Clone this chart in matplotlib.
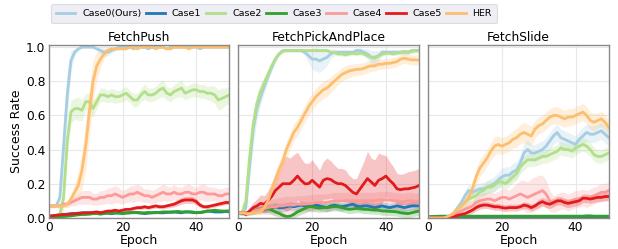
import matplotlib
matplotlib.use("Agg")
import matplotlib.pyplot as plt
import numpy as np

epochs = list(range(50))
labels = ["Case0(Ours)", "Case1", "Case2", "Case3", "Case4", "Case5", "HER"]
colors = ["#a6cee3", "#1f78b4", "#b2df8a", "#33a02c", "#fb9a99", "#e31a1c", "#fdbf6f"]
titles = ["FetchPush", "FetchPickAndPlace", "FetchSlide"]

# ---------------- FetchPush ----------------
push_c0 = [0.07,0.07,0.07,0.12,0.42,0.72,0.92,0.97,0.99,1.00, 1.00,1.00,1.00,0.99,0.98,0.97,0.97,0.98,0.99,1.00,
           1.00,1.00,1.00,0.99,1.00,1.00,1.00,0.99,1.00,1.00, 1.00,1.00,0.99,1.00,1.00,1.00,1.00,1.00,1.00,1.00,
           1.00,0.99,1.00,1.00,1.00,1.00,1.00,1.00,1.00,1.00]
push_c1 = [0.01,0.012,0.015,0.018,0.02,0.022,0.025,0.025,0.028,0.03, 0.03,0.028,0.03,0.032,0.03,0.03,0.028,0.025,0.028,0.03,
           0.028,0.03,0.03,0.032,0.03,0.028,0.025,0.028,0.03,0.032, 0.03,0.03,0.032,0.035,0.035,0.032,0.03,0.035,0.035,0.032,
           0.03,0.032,0.035,0.04,0.038,0.035,0.035,0.035,0.038,0.035]
push_c2 = [0.0,0.0,0.005,0.02,0.12,0.45,0.62,0.64,0.64,0.63, 0.68,0.68,0.64,0.68,0.72,0.72,0.71,0.72,0.71,0.71,
           0.72,0.73,0.71,0.69,0.69,0.72,0.74,0.72,0.72,0.73, 0.75,0.76,0.73,0.72,0.74,0.75,0.76,0.73,0.74,0.75,
           0.75,0.74,0.74,0.73,0.73,0.72,0.69,0.70,0.71,0.72]
push_c3 = [0.0,0.0,0.002,0.005,0.008,0.01,0.012,0.015,0.018,0.02, 0.02,0.022,0.025,0.025,0.022,0.025,0.028,0.03,0.03,0.028,
           0.025,0.028,0.03,0.03,0.032,0.03,0.03,0.032,0.03,0.03, 0.032,0.035,0.035,0.032,0.035,0.038,0.035,0.035,0.035,0.035,
           0.03,0.032,0.035,0.04,0.042,0.045,0.042,0.04,0.04,0.042]
push_c4 = [0.07,0.07,0.07,0.07,0.08,0.08,0.09,0.10,0.11,0.12, 0.12,0.12,0.11,0.11,0.12,0.12,0.13,0.13,0.14,0.13,
           0.12,0.13,0.14,0.14,0.15,0.14,0.13,0.13,0.12,0.13, 0.14,0.15,0.14,0.14,0.15,0.14,0.14,0.15,0.15,0.14,
           0.14,0.15,0.15,0.14,0.14,0.14,0.13,0.13,0.14,0.14]
push_c5 = [0.01,0.012,0.015,0.018,0.02,0.02,0.022,0.025,0.025,0.028, 0.03,0.03,0.032,0.035,0.03,0.035,0.04,0.04,0.045,0.04,
           0.045,0.05,0.05,0.055,0.06,0.06,0.065,0.06,0.065,0.07, 0.065,0.065,0.07,0.075,0.08,0.09,0.10,0.105,0.105,0.105,
           0.095,0.075,0.065,0.065,0.07,0.075,0.08,0.085,0.09,0.09]
push_her = [0.07,0.07,0.07,0.07,0.07,0.08,0.11,0.15,0.19,0.28, 0.42,0.62,0.80,0.89,0.93,0.96,0.98,0.99,0.99,0.99,
            0.99,0.99,1.00,1.00,0.99,1.00,1.00,1.00,1.00,0.99, 1.00,1.00,0.99,0.99,1.00,1.00,1.00,1.00,0.99,1.00,
            1.00,1.00,1.00,1.00,1.00,1.00,1.00,1.00,1.00,1.00]

push_c0_sd = [0.01,0.01,0.01,0.05,0.15,0.15,0.06,0.02,0.01,0.005, 0.005,0.005,0.005,0.01,0.02,0.025,0.02,0.015,0.01,0.005,
              0.005,0.005,0.005,0.005,0.005,0.005,0.005,0.005,0.005,0.005, 0.005,0.005,0.005,0.005,0.005,0.005,0.005,0.005,0.005,0.005,
              0.005,0.005,0.005,0.005,0.005,0.005,0.005,0.005,0.005,0.005]
push_c1_sd = [0.005,0.005,0.005,0.005,0.005,0.005,0.006,0.006,0.006,0.006, 0.006,0.006,0.006,0.006,0.006,0.006,0.006,0.006,0.006,0.006,
              0.006,0.006,0.006,0.006,0.006,0.006,0.006,0.006,0.006,0.006, 0.006,0.006,0.006,0.006,0.006,0.006,0.006,0.006,0.006,0.006,
              0.006,0.006,0.006,0.006,0.006,0.006,0.006,0.006,0.006,0.006]
push_c2_sd = [0.005,0.005,0.005,0.02,0.08,0.1,0.07,0.06,0.07,0.06, 0.05,0.05,0.05,0.04,0.04,0.04,0.035,0.04,0.04,0.035,
              0.04,0.04,0.035,0.04,0.04,0.04,0.045,0.04,0.04,0.04, 0.045,0.05,0.04,0.04,0.04,0.045,0.05,0.04,0.04,0.04,
              0.04,0.04,0.04,0.04,0.045,0.05,0.06,0.06,0.05,0.05]
push_c3_sd = [0.004,0.004,0.004,0.005,0.005,0.005,0.005,0.005,0.005,0.005, 0.005,0.005,0.005,0.005,0.005,0.005,0.005,0.005,0.005,0.005,
              0.005,0.005,0.005,0.005,0.005,0.005,0.005,0.005,0.005,0.005, 0.005,0.005,0.005,0.005,0.005,0.005,0.005,0.005,0.005,0.005,
              0.005,0.005,0.005,0.005,0.005,0.005,0.005,0.005,0.005,0.005]
push_c4_sd = [0.01,0.01,0.01,0.01,0.015,0.02,0.02,0.03,0.03,0.04, 0.04,0.04,0.035,0.035,0.04,0.04,0.045,0.05,0.05,0.045,
              0.04,0.04,0.045,0.05,0.05,0.045,0.04,0.04,0.04,0.04, 0.045,0.05,0.045,0.04,0.045,0.04,0.04,0.045,0.05,0.045,
              0.04,0.045,0.05,0.045,0.04,0.04,0.04,0.04,0.04,0.04]
push_c5_sd = [0.005,0.005,0.005,0.006,0.006,0.006,0.007,0.007,0.008,0.008, 0.008,0.008,0.009,0.009,0.009,0.01,0.01,0.01,0.01,0.01,
              0.01,0.01,0.01,0.01,0.012,0.012,0.012,0.012,0.012,0.012, 0.012,0.012,0.012,0.014,0.016,0.018,0.02,0.02,0.02,0.02,
              0.018,0.015,0.012,0.012,0.012,0.012,0.012,0.012,0.012,0.012]
push_her_sd = [0.01,0.01,0.01,0.01,0.01,0.015,0.03,0.05,0.08,0.11, 0.14,0.15,0.12,0.08,0.05,0.03,0.02,0.01,0.01,0.005,
               0.005,0.005,0.005,0.005,0.005,0.005,0.005,0.005,0.005,0.005, 0.005,0.005,0.005,0.005,0.005,0.005,0.005,0.005,0.005,0.005,
               0.005,0.005,0.005,0.005,0.005,0.005,0.005,0.005,0.005,0.005]

# ---------------- FetchPickAndPlace ----------------
pick_c0 = [0.03,0.02,0.06,0.30,0.52,0.64,0.71,0.77,0.83,0.88, 0.93,0.96,0.98,0.98,0.98,0.98,0.98,0.98,0.97,0.95,
           0.93,0.93,0.92,0.93,0.94,0.96,0.97,0.97,0.97,0.97, 0.97,0.97,0.98,0.98,0.97,0.96,0.94,0.94,0.95,0.97,
           0.97,0.97,0.97,0.97,0.97,0.97,0.97,0.98,0.98,0.98]
pick_c1 = [0.03,0.03,0.025,0.03,0.04,0.045,0.05,0.05,0.055,0.06, 0.065,0.06,0.06,0.065,0.07,0.065,0.07,0.075,0.07,0.065,
           0.07,0.075,0.07,0.065,0.06,0.07,0.075,0.07,0.065,0.07, 0.075,0.08,0.07,0.065,0.07,0.07,0.065,0.06,0.065,0.07,
           0.065,0.06,0.065,0.07,0.065,0.06,0.065,0.07,0.07,0.07]
pick_c2 = [0.03,0.03,0.10,0.35,0.55,0.67,0.74,0.79,0.84,0.89, 0.93,0.96,0.975,0.98,0.98,0.98,0.98,0.98,0.98,0.98,
           0.98,0.98,0.98,0.98,0.98,0.97,0.97,0.96,0.96,0.955, 0.96,0.965,0.96,0.965,0.96,0.95,0.94,0.935,0.95,0.96,
           0.965,0.965,0.96,0.965,0.97,0.975,0.97,0.975,0.98,0.98]
pick_c3 = [0.03,0.03,0.03,0.035,0.04,0.045,0.05,0.055,0.055,0.045, 0.035,0.027,0.015,0.008,0.01,0.02,0.035,0.045,0.055,0.065,
           0.065,0.06,0.057,0.06,0.06,0.063,0.066,0.065,0.06,0.055, 0.05,0.052,0.055,0.055,0.05,0.05,0.047,0.047,0.045,0.04,
           0.04,0.038,0.037,0.035,0.03,0.027,0.025,0.03,0.035,0.04]
pick_c4 = [0.03,0.03,0.03,0.035,0.04,0.045,0.05,0.055,0.06,0.065, 0.065,0.07,0.07,0.075,0.075,0.075,0.08,0.08,0.08,0.085,
           0.085,0.09,0.09,0.09,0.09,0.095,0.1,0.1,0.1,0.1, 0.1,0.1,0.1,0.1,0.1,0.1,0.1,0.1,0.105,0.105,
           0.105,0.105,0.1,0.1,0.095,0.095,0.1,0.1,0.095,0.1]
pick_c5 = [0.03,0.03,0.02,0.04,0.06,0.07,0.085,0.08,0.10,0.125, 0.16,0.18,0.20,0.20,0.20,0.22,0.245,0.22,0.20,0.20,
           0.22,0.20,0.18,0.22,0.23,0.225,0.21,0.20,0.20,0.19, 0.17,0.15,0.14,0.17,0.20,0.23,0.21,0.19,0.22,0.23,
           0.245,0.22,0.20,0.17,0.165,0.17,0.17,0.175,0.18,0.19]
pick_her = [0.03,0.03,0.025,0.025,0.03,0.03,0.035,0.06,0.10,0.16, 0.22,0.28,0.33,0.40,0.45,0.50,0.53,0.57,0.61,0.65,
            0.68,0.71,0.73,0.75,0.76,0.78,0.80,0.82,0.84,0.85, 0.86,0.865,0.87,0.87,0.875,0.885,0.89,0.89,0.90,0.90,
            0.905,0.905,0.91,0.915,0.93,0.935,0.93,0.925,0.925,0.925]

pick_c0_sd = [0.01,0.01,0.02,0.08,0.1,0.07,0.05,0.04,0.03,0.025, 0.02,0.015,0.01,0.01,0.01,0.01,0.01,0.01,0.02,0.04,
              0.06,0.07,0.07,0.06,0.05,0.03,0.02,0.015,0.015,0.015, 0.015,0.015,0.015,0.015,0.02,0.03,0.04,0.04,0.03,0.02,
              0.015,0.015,0.015,0.015,0.015,0.015,0.015,0.015,0.015,0.015]
pick_c1_sd = [0.01,0.01,0.01,0.015,0.02,0.02,0.02,0.02,0.025,0.025, 0.025,0.025,0.025,0.025,0.025,0.025,0.025,0.025,0.025,0.025,
              0.025,0.025,0.025,0.025,0.025,0.025,0.025,0.025,0.025,0.025, 0.025,0.025,0.025,0.025,0.025,0.025,0.025,0.025,0.025,0.025,
              0.025,0.025,0.025,0.025,0.025,0.025,0.025,0.025,0.025,0.025]
pick_c2_sd = [0.01,0.01,0.03,0.06,0.07,0.06,0.05,0.04,0.03,0.02, 0.015,0.01,0.01,0.008,0.008,0.008,0.008,0.008,0.008,0.008,
              0.008,0.008,0.008,0.008,0.008,0.01,0.01,0.012,0.012,0.012, 0.012,0.012,0.012,0.012,0.012,0.015,0.02,0.02,0.015,0.012,
              0.01,0.01,0.01,0.01,0.01,0.01,0.01,0.01,0.01,0.01]
pick_c3_sd = [0.01,0.01,0.01,0.015,0.02,0.02,0.02,0.02,0.025,0.025, 0.025,0.025,0.02,0.01,0.012,0.02,0.025,0.025,0.025,0.025,
              0.025,0.025,0.025,0.025,0.025,0.025,0.025,0.025,0.025,0.025, 0.025,0.025,0.025,0.025,0.025,0.025,0.025,0.025,0.025,0.025,
              0.025,0.025,0.025,0.025,0.025,0.025,0.025,0.025,0.025,0.025]
pick_c4_sd = [0.01,0.01,0.01,0.015,0.02,0.02,0.03,0.035,0.04,0.045, 0.05,0.05,0.05,0.055,0.05,0.05,0.05,0.05,0.05,0.05,
              0.05,0.05,0.05,0.05,0.05,0.05,0.05,0.05,0.05,0.05, 0.05,0.05,0.05,0.05,0.05,0.05,0.05,0.05,0.05,0.05,
              0.05,0.05,0.05,0.05,0.05,0.05,0.05,0.05,0.05,0.05]
pick_c5_sd = [0.01,0.01,0.01,0.02,0.03,0.04,0.05,0.05,0.06,0.08, 0.10,0.13,0.15,0.16,0.15,0.15,0.14,0.13,0.12,0.12,
              0.12,0.11,0.10,0.11,0.12,0.11,0.10,0.09,0.09,0.09, 0.08,0.08,0.09,0.11,0.13,0.16,0.14,0.15,0.16,0.14,
              0.12,0.11,0.10,0.09,0.09,0.09,0.10,0.10,0.10,0.10]
pick_her_sd = [0.01,0.01,0.01,0.01,0.01,0.01,0.01,0.02,0.03,0.04, 0.05,0.05,0.05,0.05,0.05,0.05,0.05,0.05,0.05,0.05,
               0.05,0.05,0.05,0.05,0.05,0.045,0.045,0.04,0.04,0.04, 0.04,0.035,0.035,0.035,0.035,0.035,0.03,0.03,0.03,0.03,
               0.03,0.03,0.03,0.03,0.03,0.03,0.03,0.03,0.03,0.03]

# ---------------- FetchSlide ----------------
slide_c0 = [0.0,0.0,0.0,0.0,0.0,0.0,0.01,0.03,0.06,0.09, 0.13,0.16,0.15,0.16,0.17,0.17,0.18,0.19,0.20,0.22,
            0.24,0.25,0.25,0.27,0.28,0.32,0.38,0.40,0.38,0.38, 0.39,0.40,0.42,0.45,0.48,0.50,0.47,0.46,0.45,0.44,
            0.43,0.46,0.48,0.50,0.49,0.49,0.50,0.51,0.49,0.47]
slide_c1 = [0.004,0.004,0.004,0.005,0.005,0.005,0.005,0.005,0.005,0.005, 0.005,0.005,0.005,0.005,0.005,0.005,0.005,0.005,0.005,0.005,
            0.005,0.005,0.005,0.005,0.005,0.005,0.005,0.005,0.005,0.005, 0.005,0.005,0.005,0.005,0.005,0.005,0.005,0.005,0.005,0.005,
            0.005,0.005,0.005,0.005,0.005,0.005,0.005,0.005,0.005,0.005]
slide_c2 = [0.0,0.0,0.0,0.0,0.0,0.0,0.01,0.03,0.05,0.07, 0.09,0.11,0.12,0.13,0.15,0.16,0.18,0.18,0.19,0.21,
            0.21,0.20,0.22,0.24,0.26,0.30,0.32,0.34,0.34,0.34, 0.35,0.36,0.36,0.37,0.38,0.39,0.41,0.40,0.40,0.39,
            0.41,0.42,0.43,0.42,0.40,0.37,0.36,0.36,0.37,0.38]
slide_c3 = [0.008,0.008,0.009,0.01,0.01,0.01,0.01,0.01,0.01,0.01, 0.01,0.01,0.01,0.01,0.01,0.01,0.01,0.01,0.01,0.01,
            0.01,0.01,0.01,0.01,0.01,0.01,0.01,0.01,0.01,0.01, 0.01,0.01,0.01,0.01,0.01,0.01,0.01,0.01,0.01,0.01,
            0.01,0.01,0.01,0.012,0.012,0.01,0.01,0.01,0.01,0.01]
slide_c4 = [0.0,0.0,0.0,0.0,0.0,0.0,0.005,0.015,0.03,0.04, 0.05,0.06,0.07,0.09,0.10,0.105,0.11,0.11,0.10,0.11,
            0.12,0.12,0.11,0.12,0.13,0.14,0.13,0.12,0.13,0.14, 0.15,0.16,0.14,0.10,0.08,0.09,0.10,0.10,0.09,0.10,
            0.11,0.11,0.12,0.11,0.12,0.13,0.14,0.15,0.15,0.16]
slide_c5 = [0.0,0.0,0.0,0.0,0.0,0.0,0.0,0.005,0.015,0.02, 0.025,0.035,0.045,0.06,0.07,0.075,0.075,0.07,0.065,0.065,
            0.06,0.057,0.06,0.06,0.06,0.065,0.075,0.07,0.06,0.07, 0.085,0.095,0.085,0.08,0.09,0.10,0.10,0.09,0.085,0.09,
            0.095,0.10,0.115,0.115,0.11,0.115,0.12,0.12,0.125,0.125]
slide_her = [0.0,0.0,0.0,0.0,0.0,0.005,0.015,0.03,0.05,0.07, 0.09,0.12,0.17,0.24,0.29,0.32,0.35,0.39,0.42,0.43,
             0.42,0.43,0.44,0.46,0.47,0.49,0.50,0.49,0.48,0.52, 0.54,0.55,0.57,0.59,0.60,0.60,0.59,0.58,0.59,0.59,
             0.60,0.61,0.62,0.60,0.57,0.56,0.57,0.58,0.56,0.53]

slide_c0_sd = [0.0,0.0,0.0,0.0,0.0,0.002,0.008,0.015,0.02,0.025, 0.03,0.035,0.035,0.035,0.035,0.04,0.04,0.04,0.045,0.045,
               0.05,0.05,0.05,0.05,0.05,0.05,0.055,0.055,0.05,0.05, 0.05,0.05,0.05,0.05,0.05,0.05,0.05,0.05,0.05,0.05,
               0.05,0.05,0.05,0.05,0.05,0.05,0.05,0.05,0.05,0.05]
slide_c1_sd = [0.002,0.002,0.002,0.002,0.002,0.002,0.002,0.002,0.002,0.002, 0.002,0.002,0.002,0.002,0.002,0.002,0.002,0.002,0.002,0.002,
               0.002,0.002,0.002,0.002,0.002,0.002,0.002,0.002,0.002,0.002, 0.002,0.002,0.002,0.002,0.002,0.002,0.002,0.002,0.002,0.002,
               0.002,0.002,0.002,0.002,0.002,0.002,0.002,0.002,0.002,0.002]
slide_c2_sd = [0.0,0.0,0.0,0.0,0.0,0.002,0.006,0.01,0.015,0.02, 0.025,0.03,0.03,0.03,0.03,0.035,0.035,0.035,0.035,0.035,
               0.035,0.035,0.035,0.035,0.04,0.04,0.04,0.04,0.04,0.04, 0.04,0.04,0.04,0.04,0.04,0.04,0.04,0.04,0.04,0.04,
               0.04,0.04,0.04,0.04,0.04,0.04,0.04,0.04,0.04,0.04]
slide_c3_sd = [0.003,0.003,0.003,0.003,0.003,0.003,0.003,0.003,0.003,0.003, 0.003,0.003,0.003,0.003,0.003,0.003,0.003,0.003,0.003,0.003,
               0.003,0.003,0.003,0.003,0.003,0.003,0.003,0.003,0.003,0.003, 0.003,0.003,0.003,0.003,0.003,0.003,0.003,0.003,0.003,0.003,
               0.003,0.003,0.003,0.003,0.003,0.003,0.003,0.003,0.003,0.003]
slide_c4_sd = [0.0,0.0,0.0,0.0,0.0,0.002,0.005,0.01,0.015,0.02, 0.025,0.03,0.03,0.035,0.04,0.04,0.04,0.04,0.045,0.045,
               0.05,0.05,0.05,0.06,0.07,0.08,0.09,0.09,0.10,0.10, 0.10,0.09,0.08,0.06,0.05,0.05,0.05,0.05,0.05,0.05,
               0.05,0.05,0.05,0.05,0.05,0.05,0.05,0.05,0.05,0.05]
slide_c5_sd = [0.0,0.0,0.0,0.0,0.0,0.0,0.002,0.005,0.008,0.01, 0.012,0.015,0.018,0.02,0.02,0.02,0.02,0.02,0.02,0.02,
               0.02,0.02,0.02,0.02,0.02,0.02,0.02,0.02,0.02,0.02, 0.025,0.025,0.025,0.025,0.025,0.025,0.025,0.025,0.025,0.025,
               0.025,0.025,0.025,0.025,0.025,0.025,0.025,0.025,0.025,0.025]
slide_her_sd = [0.0,0.0,0.0,0.0,0.0,0.003,0.008,0.015,0.02,0.025, 0.03,0.035,0.04,0.045,0.05,0.05,0.05,0.05,0.055,0.05,
                0.05,0.05,0.05,0.05,0.055,0.055,0.06,0.06,0.055,0.05, 0.05,0.05,0.05,0.05,0.05,0.05,0.05,0.05,0.05,0.05,
                0.05,0.05,0.05,0.05,0.05,0.05,0.045,0.045,0.045,0.045]

panels = [
    ([push_c0, push_c1, push_c2, push_c3, push_c4, push_c5, push_her],
     [push_c0_sd, push_c1_sd, push_c2_sd, push_c3_sd, push_c4_sd, push_c5_sd, push_her_sd]),
    ([pick_c0, pick_c1, pick_c2, pick_c3, pick_c4, pick_c5, pick_her],
     [pick_c0_sd, pick_c1_sd, pick_c2_sd, pick_c3_sd, pick_c4_sd, pick_c5_sd, pick_her_sd]),
    ([slide_c0, slide_c1, slide_c2, slide_c3, slide_c4, slide_c5, slide_her],
     [slide_c0_sd, slide_c1_sd, slide_c2_sd, slide_c3_sd, slide_c4_sd, slide_c5_sd, slide_her_sd]),
]

plt.rcParams['font.family'] = ['DejaVu Sans']
fig, axes = plt.subplots(1, 3, figsize=(6.18, 2.49), dpi=100, sharey=True)
fig.subplots_adjust(left=0.079, right=0.985, bottom=0.125, top=0.819, wspace=0.05)

x = np.array(epochs)
handles = []
for ax, title, (means, sds) in zip(axes, titles, panels):
    for m, s, c, lab in zip(means, sds, colors, labels):
        m = np.array(m); s = np.array(s)
        ax.fill_between(x, m - s, m + s, color=c, alpha=0.25, linewidth=0)
        ln, = ax.plot(x, m, color=c, lw=2.0, label=lab)
        if ax is axes[0]:
            handles.append(ln)
    ax.set_xlim(0, 49)
    ax.set_ylim(0, 1.012)
    ax.set_xticks([0, 20, 40])
    ax.set_yticks([0, 0.2, 0.4, 0.6, 0.8, 1.0])
    ax.grid(True, color='#e8e8e8', lw=0.8)
    ax.set_axisbelow(True)
    for sp in ax.spines.values():
        sp.set_color('#8a8a8a')
        sp.set_linewidth(1.0)
    ax.tick_params(axis='x', length=0, labelsize=8.8, pad=2.5, colors='black')
    ax.tick_params(axis='y', length=0, labelsize=8.8, pad=2.5, colors='black')
    ax.set_title(title, fontsize=8.8, pad=3)
    ax.set_xlabel("Epoch", fontsize=9, labelpad=0)
axes[0].set_ylabel("Success Rate", fontsize=9, labelpad=2)

leg = fig.legend(handles, labels, loc='center', bbox_to_anchor=(0.443, 0.946), ncol=7,
                 fontsize=6.8, frameon=True, handlelength=2.1, handletextpad=0.7,
                 columnspacing=0.45, borderpad=0.5, fancybox=True)
leg.get_frame().set_facecolor('#eaeaf2')
leg.get_frame().set_edgecolor('#d5d5dd')
leg.get_frame().set_linewidth(0.8)

fig.savefig("out.png", dpi=100)
